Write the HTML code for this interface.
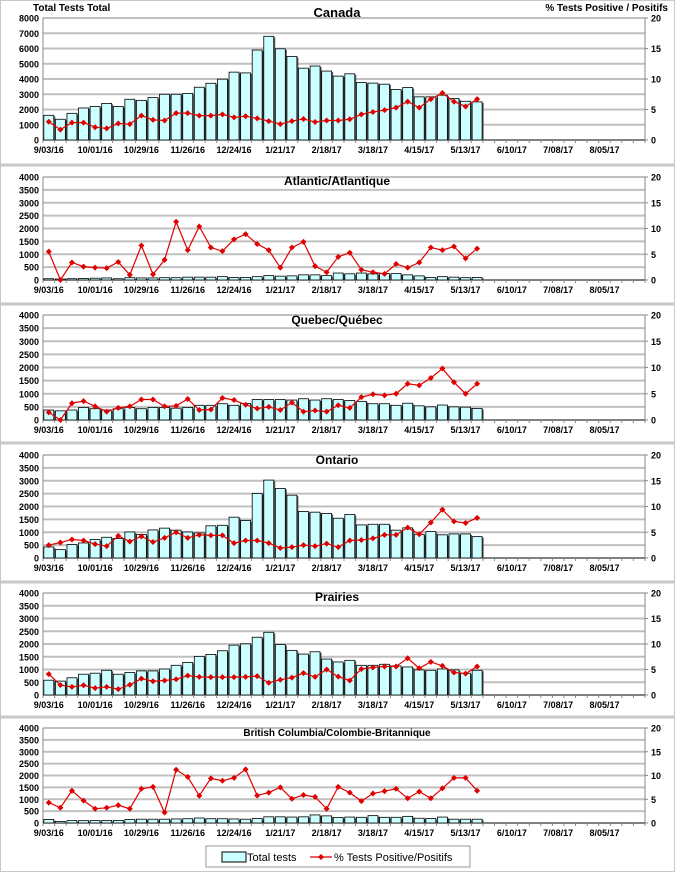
<!DOCTYPE html>
<html><head><meta charset="utf-8"><style>
html,body{margin:0;padding:0;background:#fff}
svg{display:block;font-family:"Liberation Sans",Arial,sans-serif}
</style></head><body>
<svg id="c" width="675" height="872" viewBox="0 0 675 872"></svg>
<script>
const dateLabels=["9/03/16","10/01/16","10/29/16","11/26/16","12/24/16","1/21/17","2/18/17","3/18/17","4/15/17","5/13/17","6/10/17","7/08/17","8/05/17"];
const canadaTests=[1620,1360,1750,2100,2200,2400,2200,2670,2600,2780,3000,3000,3050,3460,3720,3990,4450,4400,5900,6800,5980,5480,4710,4850,4520,4190,4340,3770,3730,3660,3310,3440,2830,2830,2940,2720,2540,2500];
const canadaPct=[3.0,1.7,2.85,2.85,2.1,1.9,2.7,2.6,4.0,3.3,3.2,4.4,4.4,4.0,4.0,4.2,3.7,3.9,3.55,3.1,2.6,3.1,3.45,2.95,3.2,3.2,3.4,4.2,4.6,4.9,5.3,6.3,5.3,6.7,7.7,6.3,5.5,6.7];
const atlTests=[50,40,50,60,70,80,50,90,80,80,90,90,110,110,110,130,100,100,130,170,150,160,200,200,170,270,240,270,240,250,250,200,160,100,130,110,90,100];
const atlPct=[5.5,0,3.4,2.6,2.4,2.3,3.5,1.0,6.7,1.1,3.9,11.3,5.8,10.4,6.3,5.6,7.9,8.9,7.0,5.8,2.4,6.3,7.4,2.7,1.5,4.5,5.3,2.0,1.5,1.2,3.1,2.4,3.4,6.3,5.8,6.5,4.2,6.1];
const qcTests=[380,350,380,480,430,380,430,480,430,480,480,450,480,560,560,620,560,630,780,780,780,760,810,760,810,780,740,710,620,620,560,640,540,500,570,500,490,440];
const qcPct=[1.45,0,3.2,3.6,2.6,1.6,2.3,2.6,3.9,3.9,2.6,2.7,4.0,1.9,2.0,4.2,3.8,2.9,2.2,2.5,1.9,3.3,1.6,1.8,1.6,2.8,2.3,4.35,4.9,4.7,5.0,6.9,6.6,8.0,9.8,7.2,5.0,6.9];
const onTests=[430,325,520,585,715,805,755,1010,910,1090,1160,1080,1010,975,1250,1270,1585,1455,2505,3025,2700,2440,1805,1780,1730,1545,1690,1285,1310,1310,1080,1170,920,1025,900,935,935,830];
const onPct=[2.5,3.0,3.6,3.4,2.7,2.3,4.3,3.2,4.2,3.1,3.9,5.0,3.9,4.5,4.4,4.4,2.9,3.4,3.4,2.9,1.95,2.1,2.5,2.3,2.8,2.1,3.4,3.5,3.8,4.5,4.5,5.9,4.6,6.9,9.4,7.1,6.8,7.8];
const prTests=[580,545,675,815,855,970,815,880,945,945,1020,1165,1280,1515,1590,1735,1955,2005,2265,2460,1980,1750,1605,1695,1410,1295,1360,1165,1165,1205,1140,1100,985,970,1020,985,855,970];
const prPct=[4.1,1.95,1.6,1.9,1.35,1.6,1.15,2.0,3.2,2.7,2.85,3.1,3.8,3.55,3.5,3.5,3.5,3.55,3.7,2.4,3.0,3.4,4.3,3.55,5.0,3.6,2.85,5.1,5.4,5.6,5.6,7.2,5.25,6.5,5.7,4.4,4.2,5.6];
const bcTests=[150,60,100,100,100,110,110,150,160,160,160,170,180,210,180,180,170,160,190,260,260,250,260,340,300,230,250,240,310,240,240,280,200,190,250,160,160,160];
const bcPct=[4.3,3.2,6.8,4.7,3.0,3.2,3.75,3.0,7.2,7.6,2.2,11.2,9.7,5.75,9.4,8.9,9.5,11.3,5.8,6.4,7.5,5.1,5.9,5.5,3.0,7.6,6.4,4.6,6.2,6.7,7.2,5.2,6.6,5.2,7.3,9.5,9.5,6.8];

const NS="http://www.w3.org/2000/svg";
const svg=document.getElementById('c');
function mk(tag,attrs,parent){const e=document.createElementNS(NS,tag);for(const k in attrs)e.setAttribute(k,attrs[k]);(parent||svg).appendChild(e);return e;}
const X0=43,X1=645,NCAT=52,BW=(X1-X0)/NCAT;
function xc(i){return X0+BW*(i+0.5);}

const panels=[
 {key:'canada',title:'Canada',tests:canadaTests,pct:canadaPct,top:18,bot:140,max:8000,step:1000,ty:17,fs:13},
 {key:'atlantic',title:'Atlantic/Atlantique',tests:atlTests,pct:atlPct,top:177,bot:280,max:4000,step:500,ty:185,fs:12},
 {key:'quebec',title:'Quebec/Québec',tests:qcTests,pct:qcPct,top:315,bot:420,max:4000,step:500,ty:324,fs:12},
 {key:'ontario',title:'Ontario',tests:onTests,pct:onPct,top:455,bot:558,max:4000,step:500,ty:464,fs:12},
 {key:'prairies',title:'Prairies',tests:prTests,pct:prPct,top:593,bot:695,max:4000,step:500,ty:601,fs:12},
 {key:'bc',title:'British Columbia/Colombie-Britannique',tests:bcTests,pct:bcPct,top:728,bot:823,max:4000,step:500,ty:736,fs:10}
];
// panel separators
[165,304,443,582,717].forEach(y=>{const r=mk('rect',{x:0,y:y-1.5,width:675,height:3,fill:'#c8c8c8'});});
mk('rect',{x:0.5,y:0.5,width:674,height:871,fill:'none',stroke:'#c8c8c8','stroke-width':1});

panels.forEach(p=>{
 const g=mk('g',{});
 
 
 const y=v=>p.bot-(v/p.max)*(p.bot-p.top);
 const yp=v=>p.bot-(v/20)*(p.bot-p.top);
 // gridlines & left ticks
 for(let v=0;v<=p.max;v+=p.step){
  const gl=mk('line',{x1:X0,x2:X1,y1:y(v),y2:y(v),stroke:'#c0c0c0','stroke-width':v===0?1:2},g);
  
  
  const t=mk('text',{x:X0-4,y:y(v)+3.5,'text-anchor':'end','font-size':9,'font-weight':'bold',fill:'#000'},g);
  t.textContent=v;
  
  
 }
 for(let v=0;v<=20;v+=5){
  const t=mk('text',{x:X1+6,y:yp(v)+3.5,'font-size':9,'font-weight':'bold',fill:'#000'},g);
  t.textContent=v;
  
  
  mk('line',{x1:X1,x2:X1+3,y1:yp(v),y2:yp(v),stroke:'#888'},g);
 }
 mk('line',{x1:X0,x2:X0,y1:p.top,y2:p.bot,stroke:'#888'},g);
 mk('line',{x1:X1,x2:X1,y1:p.top,y2:p.bot,stroke:'#888'},g);
 mk('line',{x1:X0,x2:X1,y1:p.bot,y2:p.bot,stroke:'#000'},g);
 for(let i=0;i<=NCAT;i++)mk('line',{x1:X0+BW*i,x2:X0+BW*i,y1:p.bot,y2:p.bot+3,stroke:'#888'},g);
 dateLabels.forEach((d,k)=>{
  const t=mk('text',{x:xc(k*4),y:p.bot+13,'text-anchor':'middle','font-size':9,'font-weight':'bold',fill:'#000'},g);
  t.textContent=d;
  
  
 });
 // bars
 p.tests.forEach((v,i)=>{
  const w=BW*0.86, bx=xc(i)-w/2, by=y(v);
  mk('rect',{x:bx+1.5,y:by+1,width:w,height:p.bot-by-1,fill:'#555'},g);
  const b=mk('rect',{x:bx,y:by,width:w,height:p.bot-by,fill:'#ccffff',stroke:'#000','stroke-width':0.8},g);
  
  
 });
 // line
 const pts=p.pct.map((v,i)=>xc(i)+','+yp(v)).join(' ');
 const pl=mk('polyline',{points:pts,fill:'none',stroke:'#e00000','stroke-width':1.2},g);
 
 
 p.pct.forEach((v,i)=>{
  const cx=xc(i),cy=yp(v);
  const d=mk('polygon',{points:`${cx},${cy-3} ${cx+3},${cy} ${cx},${cy+3} ${cx-3},${cy}`,fill:'#e00000'},g);
  
  
 });
 const tt=mk('text',{x:337,y:p.ty,'text-anchor':'middle','font-size':p.fs,'font-weight':'bold',fill:'#000'},g);
 tt.textContent=p.title;
 
 
});
const l1=mk('text',{x:33,y:11,'font-size':10,'font-weight':'bold'});
l1.textContent='Total Tests Total';


const l2=mk('text',{x:668,y:11,'font-size':10,'font-weight':'bold','text-anchor':'end'});
l2.textContent='% Tests Positive / Positifs';


// legend
const lg=mk('g',{});


mk('rect',{x:206,y:846,width:264,height:21,fill:'#fff',stroke:'#999'},lg);
mk('rect',{x:222,y:852,width:24,height:10,fill:'#ccffff',stroke:'#000'},lg);
const lt1=mk('text',{x:247,y:861,'font-size':11},lg);
lt1.textContent='Total tests';


mk('line',{x1:310,x2:332,y1:857,y2:857,stroke:'#e00000','stroke-width':1.2},lg);
mk('polygon',{points:'321,854 324,857 321,860 318,857',fill:'#e00000'},lg);
const lt2=mk('text',{x:334,y:861,'font-size':11},lg);
lt2.textContent='% Tests Positive/Positifs';


</script>
</body></html>
